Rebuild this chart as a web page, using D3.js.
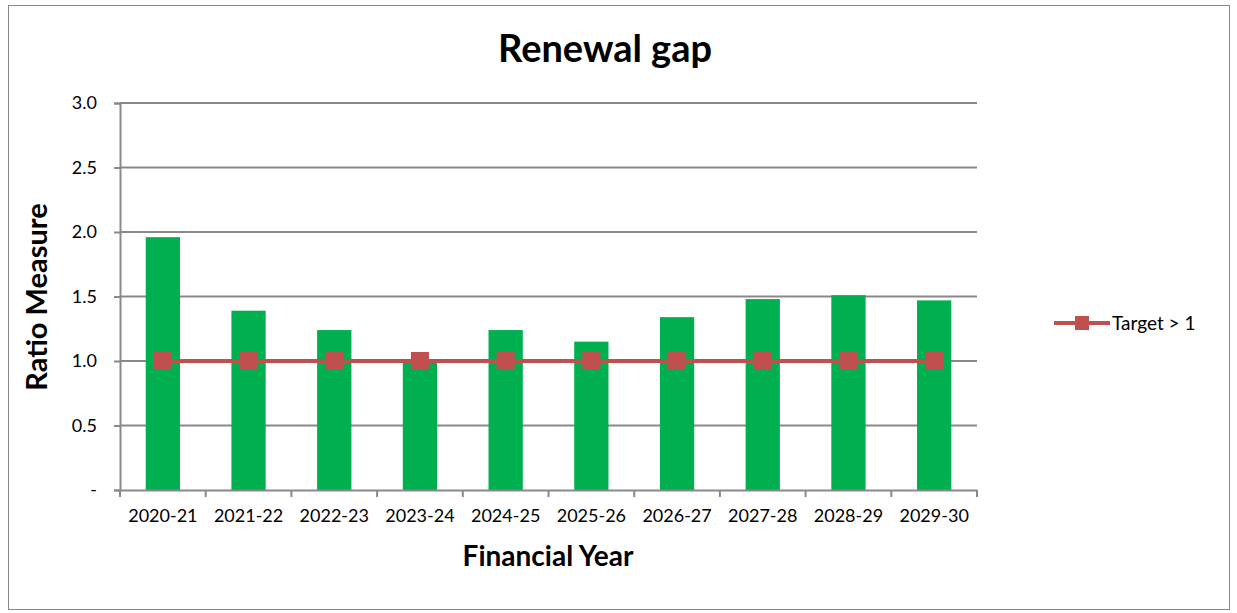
<!DOCTYPE html>
<html>
<head>
<meta charset="utf-8">
<script src="https://cdn.jsdelivr.net/npm/d3@7"></script>
<style>
  body { margin: 0; background: #fff; }
  text { font-family: Lato, "Open Sans", sans-serif; fill: #000; }
</style>
</head>
<body>
<div id="chart"></div>
<script>
const years = ["2020-21", "2021-22", "2022-23", "2023-24", "2024-25", "2025-26", "2026-27", "2027-28", "2028-29", "2029-30"];
const ratio = [1.96, 1.39, 1.24, 1.0, 1.24, 1.15, 1.34, 1.48, 1.51, 1.47];
const target = [1, 1, 1, 1, 1, 1, 1, 1, 1, 1];
const yTicks = [0, 0.5, 1.0, 1.5, 2.0, 2.5, 3.0];

const width = 1237, height = 613;
const margin = { left: 120, right: 260, top: 103, bottom: 123 };

const svg = d3.select("#chart").append("svg").attr("width", width).attr("height", height);

// outer frame
svg.append("rect")
  .attr("x", 8.5).attr("y", 5.5)
  .attr("width", 1221).attr("height", 604)
  .attr("fill", "none").attr("stroke", "#888").attr("stroke-width", 1);

const x = d3.scaleBand().domain(years).range([margin.left, width - margin.right]).paddingInner(0.6).paddingOuter(0.3);
const xb = d3.scaleBand().domain(years).range([margin.left, width - margin.right]);
const y = d3.scaleLinear().domain([0, 3]).range([height - margin.bottom, margin.top]);

// gridlines
svg.append("g").selectAll("line")
  .data(yTicks.slice(1))
  .enter().append("line")
  .attr("x1", margin.left).attr("x2", width - margin.right)
  .attr("y1", d => y(d)).attr("y2", d => y(d))
  .attr("stroke", "#898989").attr("stroke-width", 2);

// bars
svg.append("g").selectAll("rect")
  .data(years)
  .enter().append("rect")
  .attr("x", d => x(d))
  .attr("width", x.bandwidth())
  .attr("y", (d, i) => y(ratio[i]))
  .attr("height", (d, i) => y(0) - y(ratio[i]))
  .attr("fill", "#00b050");

// y axis
const yAxis = svg.append("g")
  .attr("transform", `translate(${margin.left},0)`)
  .call(d3.axisLeft(y).tickValues(yTicks).tickSize(6).tickPadding(17)
    .tickFormat(d => d === 0 ? "-" : d3.format(".1f")(d)));
yAxis.select(".domain").attr("stroke", "#898989").attr("stroke-width", 2);
yAxis.selectAll(".tick line").attr("stroke", "#898989").attr("stroke-width", 2);
yAxis.selectAll("text").style("font-size", "18px");

// x axis
const xAxis = svg.append("g")
  .attr("transform", `translate(0,${y(0)})`)
  .call(d3.axisBottom(xb).tickSize(0).tickPadding(19));
xAxis.select(".domain").attr("stroke", "#898989").attr("stroke-width", 2);
xAxis.selectAll("text").style("font-size", "18px");
xAxis.selectAll(".xtick")
  .data(d3.range(years.length + 1))
  .enter().append("line")
  .attr("x1", i => margin.left + i * xb.step()).attr("x2", i => margin.left + i * xb.step())
  .attr("y1", 0).attr("y2", 7)
  .attr("stroke", "#898989").attr("stroke-width", 2);

// target line
const line = d3.line().x((d, i) => xb(years[i]) + xb.bandwidth() / 2).y(d => y(d));
svg.append("path")
  .datum(target)
  .attr("d", line)
  .attr("fill", "none").attr("stroke", "#c0504d").attr("stroke-width", 4);

const ms = 18;
svg.append("g").selectAll("rect")
  .data(target)
  .enter().append("rect")
  .attr("x", (d, i) => xb(years[i]) + xb.bandwidth() / 2 - ms / 2)
  .attr("y", d => y(d) - ms / 2)
  .attr("width", ms).attr("height", ms)
  .attr("fill", "#c0504d");

// legend
const lg = svg.append("g").attr("transform", "translate(1054,323)");
lg.append("line").attr("x1", 0).attr("x2", 56).attr("y1", 0).attr("y2", 0)
  .attr("stroke", "#c0504d").attr("stroke-width", 4);
lg.append("rect").attr("x", 21).attr("y", -7).attr("width", 14).attr("height", 14).attr("fill", "#c0504d");
lg.append("text").attr("x", 58).attr("y", 7).style("font-size", "19px").text("Target > 1");

// titles
svg.append("text").attr("x", 605).attr("y", 62).attr("text-anchor", "middle")
  .style("font-size", "38px").style("font-weight", "bold").text("Renewal gap");
svg.append("text").attr("x", 548).attr("y", 566).attr("text-anchor", "middle")
  .style("font-size", "28px").style("font-weight", "bold").text("Financial Year");
svg.append("text").attr("transform", "translate(47,297) rotate(-90)").attr("text-anchor", "middle")
  .style("font-size", "29px").style("font-weight", "bold").text("Ratio Measure");
</script>
</body>
</html>
